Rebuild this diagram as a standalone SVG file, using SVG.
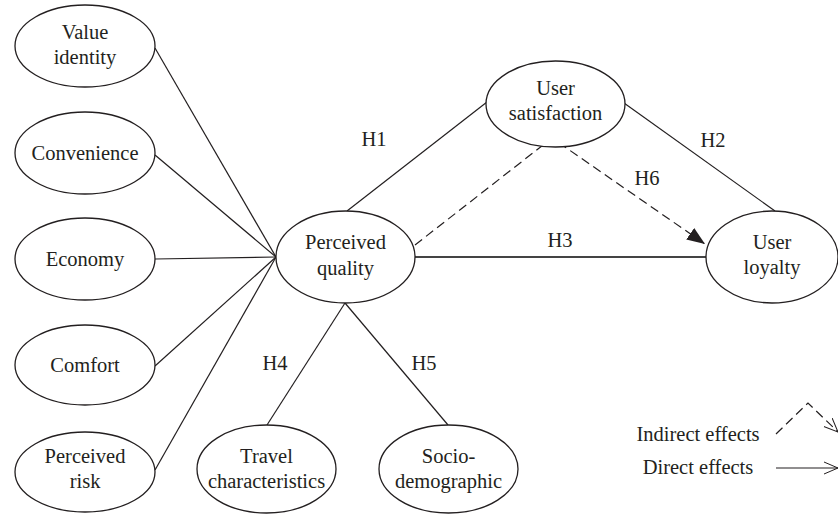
<svg xmlns="http://www.w3.org/2000/svg" width="838" height="515" viewBox="0 0 838 515" font-family="'Liberation Serif', serif">
<defs>
<style>
ellipse{fill:#fff;stroke:#231f20;stroke-width:1.3}
text{font-family:'Liberation Serif',serif;font-size:20.5px;fill:#231f20;text-anchor:middle}
.c line,.c polyline{stroke:#231f20;stroke-width:1.2;fill:none}
.c .d{stroke-dasharray:9,5}
</style>
<marker id="fa" markerUnits="userSpaceOnUse" markerWidth="20" markerHeight="14" refX="18" refY="7" orient="auto">
<path d="M0,0 L18,7 L0,14 Z" fill="#231f20"/>
</marker>
<marker id="oa" markerUnits="userSpaceOnUse" markerWidth="16" markerHeight="14" refX="14" refY="7" orient="auto">
<path d="M0,1 L14,7 L0,13" fill="none" stroke="#231f20" stroke-width="1"/>
</marker>
</defs>
<g class="c" id="connectors">
<line x1="155" y1="48" x2="276" y2="257"/>
<line x1="155" y1="155" x2="276" y2="257"/>
<line x1="155" y1="259" x2="276" y2="257"/>
<line x1="155" y1="366" x2="276" y2="257"/>
<line x1="155" y1="470" x2="276" y2="257"/>
<line x1="347" y1="211" x2="487" y2="102"/>
<line x1="624" y1="103" x2="775" y2="211"/>
<line x1="415" y1="257" x2="706" y2="257" style="stroke:#444;stroke-width:1.8"/>
<line x1="345" y1="303" x2="267" y2="425"/>
<line x1="345" y1="303" x2="448" y2="425"/>
<polyline class="d" points="415,245 552,138 705,244" marker-end="url(#fa)"/>
<polyline class="d" points="776,434 808,403 838,432" marker-end="url(#oa)"/>
<line x1="776" y1="468" x2="838" y2="468" marker-end="url(#oa)"/>
</g>
<g id="value-identity"><ellipse cx="85" cy="46" rx="70" ry="41"/><text x="85" y="39">Value</text><text x="85" y="64">identity</text></g>
<g id="convenience"><ellipse cx="85" cy="153" rx="70" ry="41"/><text x="85" y="160">Convenience</text></g>
<g id="economy"><ellipse cx="85" cy="259" rx="70" ry="41"/><text x="85" y="266">Economy</text></g>
<g id="comfort"><ellipse cx="85" cy="365" rx="70" ry="40"/><text x="85" y="372">Comfort</text></g>
<g id="perceived-risk"><ellipse cx="85" cy="472" rx="70" ry="40"/><text x="85" y="463">Perceived</text><text x="85" y="488">risk</text></g>
<g id="perceived-quality"><ellipse cx="345.5" cy="257" rx="69.5" ry="46"/><text x="345.5" y="249">Perceived</text><text x="345.5" y="275">quality</text></g>
<g id="user-satisfaction"><ellipse cx="555.5" cy="104" rx="69.5" ry="43"/><text x="555.5" y="95">User</text><text x="555.5" y="120">satisfaction</text></g>
<g id="user-loyalty"><ellipse cx="772" cy="257" rx="66" ry="46"/><text x="772" y="249">User</text><text x="772" y="274">loyalty</text></g>
<g id="travel-characteristics"><ellipse cx="266.5" cy="469" rx="69.5" ry="44"/><text x="266.5" y="463">Travel</text><text x="266.5" y="488">characteristics</text></g>
<g id="socio-demographic"><ellipse cx="448.5" cy="469" rx="69.5" ry="44"/><text x="448.5" y="463">Socio-</text><text x="448.5" y="488">demographic</text></g>
<g id="labels">
<text x="374" y="146">H1</text>
<text x="713" y="147">H2</text>
<text x="560" y="247">H3</text>
<text x="275" y="370">H4</text>
<text x="424" y="370">H5</text>
<text x="647" y="185">H6</text>
</g>
<g id="legend">
<text x="698" y="441">Indirect effects</text>
<text x="698" y="474">Direct effects</text>
</g>
</svg>
